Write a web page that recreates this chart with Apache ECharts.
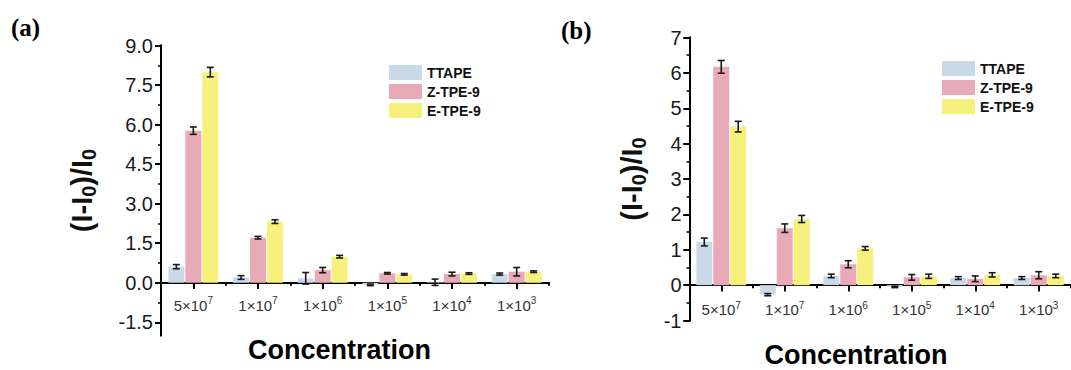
<!DOCTYPE html>
<html><head><meta charset="utf-8">
<script src="https://cdn.jsdelivr.net/npm/echarts@6/dist/echarts.min.js"></script>
<style>html,body{margin:0;padding:0;background:#fff}
#wrap{position:relative;width:1071px;height:370px}
.c{position:absolute;left:0;top:0;width:1071px;height:370px}</style>
</head><body><div id="wrap">
<div class="c" id="axa"></div><div class="c" id="axb"></div>
<div class="c" id="ca"></div><div class="c" id="cb"></div>
</div>
<script>
// ---------- data ----------
const categories = ['5×10^7', '1×10^7', '1×10^6', '1×10^5', '1×10^4', '1×10^3'];
const seriesNames = ['TTAPE', 'Z-TPE-9', 'E-TPE-9'];

// panel (a)
const aTTAPE    = [0.61, 0.20, 0.17, -0.08, 0.02, 0.33];
const aTTAPEErr = [0.08, 0.07, 0.22, 0.03, 0.12, 0.04];
const aZ        = [5.77, 1.71, 0.48, 0.36, 0.33, 0.42];
const aZErr     = [0.14, 0.05, 0.10, 0.03, 0.07, 0.16];
const aE        = [7.99, 2.32, 0.99, 0.32, 0.35, 0.42];
const aEErr     = [0.18, 0.07, 0.05, 0.03, 0.03, 0.03];
const aYMin = -2, aYMax = 9;
const aYTicks      = [-1.5, 0, 1.5, 3, 4.5, 6, 7.5, 9];
const aYMinorTicks = [-0.75, 0.75, 2.25, 3.75, 5.25, 6.75, 8.25];

// panel (b)
const bTTAPE    = [1.22, -0.27, 0.26, -0.05, 0.20, 0.20];
const bTTAPEErr = [0.11, 0.03, 0.05, 0.02, 0.04, 0.04];
const bZ        = [6.17, 1.61, 0.59, 0.22, 0.18, 0.28];
const bZErr     = [0.18, 0.12, 0.10, 0.08, 0.08, 0.10];
const bE        = [4.48, 1.87, 1.04, 0.25, 0.29, 0.26];
const bEErr     = [0.15, 0.10, 0.05, 0.06, 0.06, 0.05];
const bYMin = -1, bYMax = 7;
const bYTicks      = [-1, 0, 1, 2, 3, 4, 5, 6, 7];
const bYMinorTicks = [-0.5, 0.5, 1.5, 2.5, 3.5, 4.5, 5.5, 6.5];

// ---------- layout & styles ----------
const COLORS = ['#c9d9e8', '#e9aab7', '#f6f07c'];
const BAR_W = 16, BAR_GAP = 0.06, CAP = 7;
const SANS = 'Liberation Sans, Arial, sans-serif';
const SERIF = 'Liberation Serif, Times New Roman, serif';
const AXIS_COLOR = '#000';

function barSeries(name, k, vals) {
  return { type: 'bar', name, data: vals, barWidth: BAR_W, barGap: (BAR_GAP * 100) + '%',
    itemStyle: { color: COLORS[k] } };
}

function errSeries(k, vals, errs) {
  return {
    type: 'custom', z: 5, silent: true,
    data: vals.map((v, i) => [i, v, errs[i]]),
    renderItem(params, api) {
      const i = api.value(0), v = api.value(1), e = api.value(2);
      const off = (k - 1) * BAR_W * (1 + BAR_GAP);
      const top = api.coord([i, v + e]);
      const bot = api.coord([i, v - e]);
      const x = top[0] + off, hw = CAP / 2;
      const st = { stroke: '#1a1a1a', lineWidth: 1.6 };
      return { type: 'group', children: [
        { type: 'line', shape: { x1: x, y1: top[1], x2: x, y2: bot[1] }, style: st },
        { type: 'line', shape: { x1: x - hw, y1: top[1], x2: x + hw, y2: top[1] }, style: st },
        { type: 'line', shape: { x1: x - hw, y1: bot[1], x2: x + hw, y2: bot[1] }, style: st } ] };
    }
  };
}

function zeroOffset(p) { return -p.grid.height * (0 - p.yMin) / (p.yMax - p.yMin); }

// Plain axis layer: axis lines and ticks only (drawn underneath the main layer).
function axesOption(p) {
  const offset = zeroOffset(p);
  return {
    animation: false,
    grid: Object.assign({ outerBoundsMode: 'none' }, p.grid),
    xAxis: [{
      type: 'category', data: categories, position: 'bottom', offset,
      axisLine: { show: true, onZero: false, lineStyle: { color: AXIS_COLOR, width: 2 } },
      axisTick: { show: true, alignWithLabel: true, length: 6, lineStyle: { color: AXIS_COLOR, width: 2 } },
      axisLabel: { show: false }, splitLine: { show: false }
    }, {
      type: 'category', data: categories, position: 'bottom', offset,
      axisLine: { show: false, onZero: false },
      axisTick: { show: true, alignWithLabel: false, length: 3, lineStyle: { color: AXIS_COLOR, width: 2 } },
      axisLabel: { show: false }, splitLine: { show: false }
    }],
    yAxis: [{
      type: 'value', min: p.yMin, max: p.yMax, position: 'left',
      axisLine: { show: true, lineStyle: { color: AXIS_COLOR, width: 2 } },
      axisTick: { show: true, inside: false, length: 6, customValues: p.yTicks, lineStyle: { color: AXIS_COLOR, width: 2 } },
      axisLabel: { show: false }, splitLine: { show: false }
    }, {
      type: 'value', min: p.yMin, max: p.yMax, position: 'left',
      axisLine: { show: false },
      axisTick: { show: true, length: 3, customValues: p.yMinor, lineStyle: { color: AXIS_COLOR, width: 1.5 } },
      axisLabel: { show: false }, splitLine: { show: false }
    }],
    series: []
  };
}

// Main layer: bars, error bars, labels, names, legend, panel label.
function panelOption(p) {
  const offset = zeroOffset(p);
  const series = [];
  seriesNames.forEach((n, k) => series.push(barSeries(n, k, p.vals[k])));
  seriesNames.forEach((n, k) => series.push(errSeries(k, p.vals[k], p.errs[k])));
  return {
    animation: false,
    title: { text: p.label, left: p.labelLeft, top: p.labelTop, padding: 0,
      textStyle: { fontFamily: SERIF, fontWeight: 'bold', fontSize: 25, color: '#000' } },
    legend: { data: seriesNames, left: p.legendLeft, top: p.legendTop,
      orient: 'vertical', icon: 'rect', itemWidth: 33, itemHeight: 15, itemGap: 4,
      padding: 0, selectedMode: false,
      textStyle: { fontSize: 14, fontWeight: 'bold', color: '#111', fontFamily: SANS } },
    grid: Object.assign({ outerBoundsMode: 'none' }, p.grid),
    xAxis: [{
      type: 'category', data: categories, position: 'bottom', offset,
      axisLine: { show: true, onZero: false, lineStyle: { color: AXIS_COLOR, width: 2 } },
      axisTick: { show: true, alignWithLabel: true, length: 6, lineStyle: { color: AXIS_COLOR, width: 2 } },
      axisLabel: {
        show: true, interval: 0, fontSize: 15, color: '#333', fontFamily: SANS, margin: p.xLabelMargin,
        formatter: v => { const s = v.split('^'); return s[0] + '{sup|' + s[1] + '}'; },
        rich: { sup: { fontSize: 10, color: '#333', fontFamily: SANS, padding: [0, 0, 9, 0] } }
      },
      splitLine: { show: false },
      name: 'Concentration', nameLocation: 'middle', nameGap: p.xNameGap,
      nameTextStyle: { fontSize: 27, fontWeight: 'bold', color: '#000', fontFamily: SANS, padding: [0, p.xNamePad, 0, 0] }
    }],
    yAxis: [{
      type: 'value', min: p.yMin, max: p.yMax, position: 'left',
      axisLine: { show: true, lineStyle: { color: AXIS_COLOR, width: 2 } },
      axisTick: { show: true, inside: false, length: 6, customValues: p.yTicks, lineStyle: { color: AXIS_COLOR, width: 2 } },
      axisLabel: { show: true, customValues: p.yTicks, formatter: p.yFmt, fontSize: 20, color: '#1a1a1a', fontFamily: SANS, margin: 8 },
      splitLine: { show: false },
      name: '(I-I{s|0})/I{s|0}', nameLocation: 'middle', nameGap: p.yNameGap, nameRotate: 90,
      nameTextStyle: { fontSize: 29, fontWeight: 'bold', color: '#111', fontFamily: SANS,
        rich: { s: { fontSize: 20, fontWeight: 'bold', color: '#111', fontFamily: SANS, padding: [14, 0, 0, 0] } } }
    }],
    series
  };
}

const panelA = {
  label: '(a)', labelLeft: 11, labelTop: 15, legendLeft: 389, legendTop: 65,
  grid: { left: 161, top: 45.5, width: 388, height: 290 },
  yMin: aYMin, yMax: aYMax, yTicks: aYTicks, yMinor: aYMinorTicks, yFmt: v => v.toFixed(1),
  vals: [aTTAPE, aZ, aE], errs: [aTTAPEErr, aZErr, aEErr],
  xLabelMargin: 13, xNameGap: 54, xNamePad: 31, yNameGap: 62
};
const panelB = {
  label: '(b)', labelLeft: 561, labelTop: 18, legendLeft: 942, legendTop: 61,
  grid: { left: 689.5, top: 37.5, width: 381, height: 283 },
  yMin: bYMin, yMax: bYMax, yTicks: bYTicks, yMinor: bYMinorTicks, yFmt: v => String(v),
  vals: [bTTAPE, bZ, bE], errs: [bTTAPEErr, bZErr, bEErr],
  xLabelMargin: 15, xNameGap: 56, xNamePad: 48, yNameGap: 41
};

const initOpts = { renderer: 'svg', width: 1071, height: 370 };
echarts.init(document.getElementById('axa'), null, initOpts).setOption(axesOption(panelA));
echarts.init(document.getElementById('axb'), null, initOpts).setOption(axesOption(panelB));
echarts.init(document.getElementById('ca'), null, initOpts).setOption(panelOption(panelA));
echarts.init(document.getElementById('cb'), null, initOpts).setOption(panelOption(panelB));
</script>
</body></html>
